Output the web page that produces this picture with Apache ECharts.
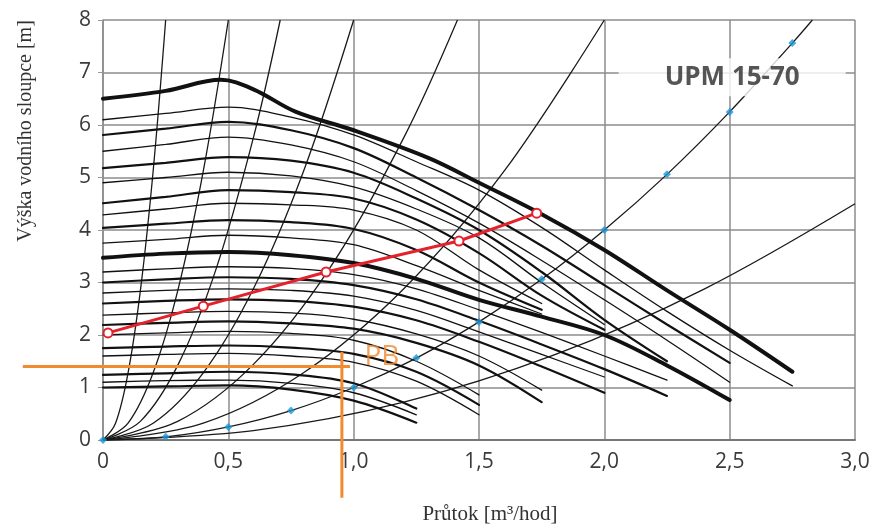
<!DOCTYPE html>
<html><head><meta charset="utf-8">
<script src="https://cdn.jsdelivr.net/npm/echarts/dist/echarts.min.js"></script>
<style>html,body{margin:0;padding:0;background:#fff}#c{width:875px;height:532px}</style>
</head><body><div id="c"></div>
<script>
// ---- tick labels ----
const xTickLabels = ['0','0,5','1,0','1,5','2,0','2,5','3,0'];
const yTickLabels = ['0','1','2','3','4','5','6','7','8'];
const xTitle = 'Průtok [m³/hod]';
const yTitle = 'Výška vodního sloupce [m]';

// ---- pump curves (head H [m] vs flow Q [m3/h]) ----
const qGrid = [0,0.25,0.5,0.75,1.0,1.25,1.5,1.75,2.0,2.25,2.5,2.75];
const maxCurveQ = [0,0.25,0.47,0.6,0.77,1.0,1.3,1.5,1.75,2.0,2.25,2.5,2.75];
const maxCurveH = [6.5,6.65,6.86,6.68,6.25,5.9,5.37,4.9,4.3,3.62,2.85,2.1,1.3];
const h61  = [6.1,6.22,6.34,6.15,5.81,5.3,4.76,4.05,3.24,2.45,1.71,1.03];
const h58  = [5.81,5.93,6.06,5.9,5.56,5.0,4.38,3.7,2.95,2.2,1.47];
const h55  = [5.5,5.63,5.77,5.62,5.3,4.75,4.13,3.42,2.67,1.9,1.1];
const h52  = [5.18,5.28,5.39,5.32,5.09,4.6,4.0,3.2,2.29,1.5];
const h49  = [4.9,5.0,5.1,5.03,4.82,4.4,3.85,3.0,2.2];
const h45  = [4.51,4.63,4.76,4.72,4.6,4.2,3.56,2.75,2.1];
const h43  = [4.29,4.4,4.51,4.48,4.38,4.0,3.24,2.6];
const h40  = [4.04,4.12,4.19,4.15,4.02,3.62,3.0,2.48];
const h375 = [3.75,3.82,3.9,3.85,3.72,3.32,2.85,2.4];
const h35  = [3.47,3.55,3.58,3.52,3.37,3.07,2.67,2.35,2.0,1.42,0.76];
const h32  = [3.2,3.26,3.3,3.27,3.15,2.88,2.48,2.05,1.6,1.14];
const h30  = [3.0,3.06,3.1,3.07,2.95,2.68,2.27,1.82,1.35,0.84];
const h28  = [2.8,2.85,2.88,2.85,2.74,2.47,2.06,1.63,1.2];
const h26  = [2.6,2.65,2.68,2.65,2.54,2.28,1.87,1.4,0.9];
const h24  = [2.38,2.42,2.45,2.42,2.3,2.02,1.6,0.95];
const h22  = [2.19,2.23,2.26,2.22,2.12,1.85,1.42,0.72];
const h20  = [2.0,2.04,2.07,2.03,1.9,1.5,0.86];
const h175 = [1.75,1.78,1.8,1.76,1.64,1.3,0.67];
const h16  = [1.6,1.63,1.65,1.6,1.48,1.12,0.48];
const h124 = [1.24,1.27,1.3,1.25,1.08,0.6];
const h11  = [1.1,1.13,1.14,1.08,0.9,0.48];
const h10  = [1.0,1.02,1.04,0.96,0.75,0.33];

// ---- system curves (from origin) ----
const sys128 = [[0,0],[0.05,0.32],[0.1,1.28],[0.15,2.88],[0.2,5.12],[0.25,8]];
const sys32  = [[0,0],[0.1,0.32],[0.2,1.28],[0.3,2.88],[0.4,5.12],[0.5,8]];
const sys16  = [[0,0],[0.15,0.36],[0.3,1.44],[0.45,3.24],[0.6,5.76],[0.707,8]];
const sys8   = [[0,0],[0.2,0.32],[0.4,1.28],[0.6,2.88],[0.8,5.12],[1.0,8]];
const sys4   = [[0,0],[0.3,0.36],[0.6,1.44],[0.9,3.24],[1.2,5.76],[1.414,8]];
const sys2   = [[0,0],[0.4,0.32],[0.8,1.28],[1.2,2.88],[1.6,5.12],[2.0,8]];
const sysHalf= [[0,0],[0.6,0.18],[1.2,0.72],[1.8,1.62],[2.4,2.88],[3.0,4.5]];
const blueQ = [0,0.25,0.5,0.75,1.0,1.25,1.5,1.75,2.0,2.25,2.5,2.75];
const blueH = [0,0.06,0.25,0.56,1.0,1.56,2.25,3.06,4.0,5.06,6.25,7.56];
const blueEnd = [2.83,8];

// ---- red operating line ----
const redQ = [0.02,0.4,0.89,1.42,1.73];
const redH = [2.04,2.55,3.2,3.79,4.32];

// ---- orange reading lines ----
const orangeH = 1.40;
const orangeHQ = [-0.32,0.985];
const orangeQ = 0.953;
const orangeVH = [1.68,-1.1];

// ---- text annotations ----
const modelLabel = {text:'UPM 15-70', q:2.51, h:6.91};
const pointLabel = {text:'PB', q:1.113, h:1.58};

const zip = (qs, hs) => hs.map((h,i)=>[qs[i],h]);
const W = {thin:1.3, med:2.2, thick:4};
const pumpList = [
  [zip(maxCurveQ,maxCurveH),'thick'],[zip(qGrid,h61),'thin'],[zip(qGrid,h58),'med'],
  [zip(qGrid,h55),'thin'],[zip(qGrid,h52),'med'],[zip(qGrid,h49),'thin'],
  [zip(qGrid,h45),'med'],[zip(qGrid,h43),'thin'],[zip(qGrid,h40),'med'],
  [zip(qGrid,h375),'thin'],[zip(qGrid,h35),'thick'],[zip(qGrid,h32),'thin'],
  [zip(qGrid,h30),'med'],[zip(qGrid,h28),'thin'],[zip(qGrid,h26),'med'],
  [zip(qGrid,h24),'thin'],[zip(qGrid,h22),'med'],[zip(qGrid,h20),'thin'],
  [zip(qGrid,h175),'med'],[zip(qGrid,h16),'thin'],[zip(qGrid,h124),'med'],
  [zip(qGrid,h11),'thin'],[zip(qGrid,h10),'med']
];
const series = [];
const lineBase = {type:'line', symbol:'none', smooth:0.35, silent:true, animation:false};
[sys128,sys32,sys16,sys8,sys4,sys2,sysHalf].forEach(d=>{
  series.push(Object.assign({}, lineBase, {data:d, z:2, lineStyle:{color:'#1a1a1a', width:1.3}}));
});
series.push(Object.assign({}, lineBase, {data:zip(blueQ,blueH).concat([blueEnd]), z:2, lineStyle:{color:'#1a1a1a', width:1.3}}));
pumpList.forEach(([d,w])=>{
  series.push(Object.assign({}, lineBase, {data:d, z:3, lineStyle:{color:'#111', width:W[w], cap:'round'}}));
});
series.push({type:'scatter', data:[[modelLabel.q, modelLabel.h]], symbolSize:0, z:4, silent:true, animation:false,
  label:{show:true, position:'inside', formatter:modelLabel.text, fontFamily:'Open Sans', fontWeight:'bold',
    fontSize:26, color:'#2a2a2a', backgroundColor:'#fff', padding:[6,46,6,46]}});
series.push({type:'scatter', data:zip(blueQ,blueH), symbol:'diamond', symbolSize:8, z:5, silent:true, animation:false,
  itemStyle:{color:'#1d96d6'}});
series.push({type:'line', data:zip(redQ,redH), z:6, symbol:'emptyCircle', symbolSize:9, showSymbol:true, silent:true, animation:false,
  lineStyle:{color:'#e3222c', width:3}, itemStyle:{color:'#e3222c', borderWidth:2}});
// orange reading lines drawn through the axes' own coordinate mapping (may extend past the plot)
series.push({type:'custom', z:7, silent:true, animation:false, clip:false,
  data:[[orangeHQ[0],orangeH,orangeHQ[1],orangeH],[orangeQ,orangeVH[0],orangeQ,orangeVH[1]]],
  renderItem:(params, api)=>{
    const x0 = api.value(0), y0 = api.value(1), x1 = api.value(2), y1 = api.value(3);
    const xAx = chart.getModel().getComponent('xAxis',0).axis;
    const yAx = chart.getModel().getComponent('yAxis',0).axis;
    const px = v => xAx.toGlobalCoord(xAx.dataToCoord(v));
    const py = v => yAx.toGlobalCoord(yAx.dataToCoord(v));
    return {type:'line', shape:{x1:px(x0), y1:py(y0), x2:px(x1), y2:py(y1)},
      style:{stroke:'#f28b30', lineWidth:3}};
  }});
series.push({type:'scatter', data:[[pointLabel.q, pointLabel.h]], symbolSize:0, z:7, silent:true, animation:false,
  label:{show:true, position:'inside', formatter:pointLabel.text, fontFamily:'Open Sans', fontSize:28, color:'#f28b30'}});

const chart = echarts.init(document.getElementById('c'), null, {renderer:'canvas'});
chart.setOption({
  backgroundColor:'#fff',
  animation:false,
  grid:{left:103, right:20, top:20, bottom:92},
  graphic:[{type:'text', x:26, y:131, rotation:Math.PI/2, silent:true,
    style:{text:yTitle, fontFamily:'Liberation Serif', fontSize:20, fill:'#333',
      textAlign:'center', textVerticalAlign:'middle'}}],
  xAxis:{type:'value', min:0, max:3, interval:0.5,
    name:xTitle, nameLocation:'middle', nameGap:64,
    nameTextStyle:{fontFamily:'Liberation Serif', fontSize:21, color:'#333', padding:[0,0,0,22]},
    axisLine:{show:true, lineStyle:{color:'#777', width:2}},
    axisTick:{show:false},
    axisLabel:{fontFamily:'Open Sans', fontSize:21, color:'#3a3a3a', margin:12,
      formatter:v=>xTickLabels[Math.round(v/0.5)]},
    splitLine:{show:true, lineStyle:{color:'#8c8c8c', width:1.5}}},
  yAxis:{type:'value', min:0, max:8, interval:1,
    axisLine:{show:true, lineStyle:{color:'#8c8c8c', width:1.5}},
    axisTick:{show:true, inside:false, length:5, lineStyle:{color:'#999'}},
    axisLabel:{fontFamily:'Open Sans', fontSize:21, color:'#3a3a3a', margin:12,
      formatter:v=>yTickLabels[Math.round(v)]},
    splitLine:{show:true, lineStyle:{color:'#8c8c8c', width:1.5}}},
  series:series
});
</script></body></html>
